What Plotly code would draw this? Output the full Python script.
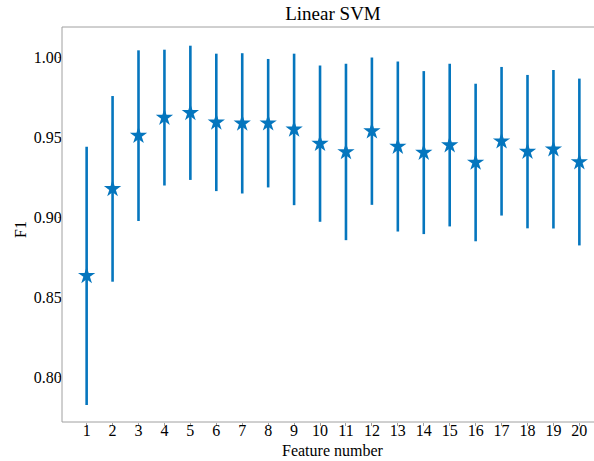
import plotly.graph_objects as go

feature_number = list(range(1, 21))
f1_mean = [0.8633, 0.9177, 0.9510, 0.9623, 0.9653, 0.9593, 0.9587, 0.9588, 0.9549, 0.9460,
           0.9408, 0.9538, 0.9442, 0.9404, 0.9451, 0.9342, 0.9475, 0.9410, 0.9425, 0.9345]
f1_err = [0.0808, 0.0581, 0.0534, 0.0425, 0.0420, 0.0430, 0.0439, 0.0402, 0.0474, 0.0489,
          0.0552, 0.0461, 0.0532, 0.0510, 0.0509, 0.0493, 0.0465, 0.0480, 0.0496, 0.0522]
y_ticks = [0.80, 0.85, 0.90, 0.95, 1.00]

color = "#0576be"
font_family = "Liberation Serif"
spine = "#a0a0a0"

# The reference is a crop of a wider figure: its axes run past the right edge.
W, H = 610, 461
L, R, T, B = 62, 6, 27, 39
PW, PH = W - L - R, H - T - B
CX = (L + W - R) / 2  # horizontal centre of the axes

fig = go.Figure()
fig.add_trace(go.Scatter(
    x=feature_number, y=f1_mean, mode="markers",
    marker=dict(symbol="star", size=13, color=color, line=dict(width=0)),
    error_y=dict(type="data", array=f1_err, visible=True, color=color,
                 thickness=2.6, width=0),
    showlegend=False,
))

fig.update_layout(
    width=W, height=H,
    margin=dict(l=L, r=R, t=T, b=B, autoexpand=False),
    paper_bgcolor="white", plot_bgcolor="white",
    font=dict(family=font_family, size=16, color="black"),
    title=dict(text="Linear SVM", x=CX / W, xanchor="center",
               y=1 - 13 / H, yanchor="middle",
               font=dict(family=font_family, size=19, color="black")),
    xaxis=dict(range=[0.05, 20.95], tickmode="array", tickvals=feature_number,
               ticktext=[str(v) for v in feature_number], automargin=False,
               showgrid=False, zeroline=False, showline=False,
               ticks="outside", ticklen=3, tickcolor=spine,
               ticklabelstandoff=-9,
               tickfont=dict(family=font_family, size=16)),
    yaxis=dict(range=[0.7718, 1.019], tickmode="array", tickvals=y_ticks,
               ticktext=[f"{v:.2f}" for v in y_ticks], automargin=False,
               showgrid=False, zeroline=False, showline=False,
               ticks="outside", ticklen=3, tickcolor=spine,
               ticklabelstandoff=-7,
               tickfont=dict(family=font_family, size=16)),
    shapes=[
        dict(type="line", xref="paper", yref="paper", x0=0, x1=1, y0=1, y1=1,
             line=dict(color=spine, width=1)),
        dict(type="line", xref="paper", yref="paper", x0=0, x1=1, y0=0, y1=0,
             line=dict(color=spine, width=1)),
        dict(type="line", xref="paper", yref="paper", x0=0, x1=0, y0=0, y1=1,
             line=dict(color=spine, width=1)),
        dict(type="line", xref="paper", yref="paper", x0=1, x1=1, y0=0, y1=1,
             line=dict(color=spine, width=1)),
    ],
    annotations=[
        dict(text="Feature number", xref="paper", yref="paper",
             x=0.5, y=-(450 - (H - B)) / PH,
             xanchor="center", yanchor="middle", showarrow=False,
             font=dict(family=font_family, size=16, color="black")),
        dict(text="F1", xref="paper", yref="paper",
             x=-(L - 20) / PW, y=(H - B - 230) / PH,
             xanchor="center", yanchor="middle", textangle=-90, showarrow=False,
             font=dict(family=font_family, size=16, color="black")),
    ],
)

fig.write_html(
    "out.html",
    config={"displayModeBar": False},
    post_script=("document.body.style.margin='0';document.body.style.padding='0';"
                 "document.body.style.overflow='hidden';"
                 "document.documentElement.style.overflow='hidden';"),
)
